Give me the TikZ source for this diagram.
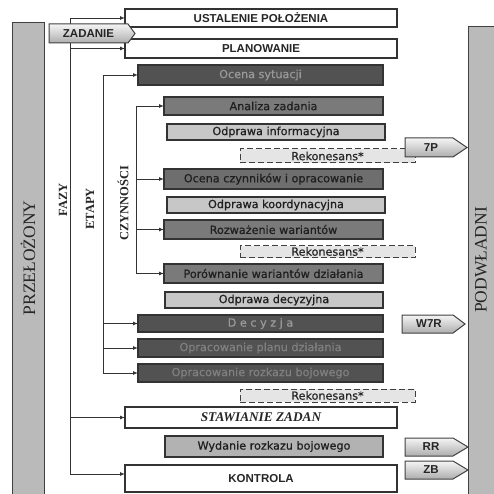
\documentclass[tikz,border=0pt]{standalone}
\usepackage{fontspec}
\setmainfont{Liberation Serif}
\newfontfamily\boxfont[FakeBold=0.6]{DejaVu Sans}
\newfontfamily\headfont{Liberation Sans}
\usetikzlibrary{arrows.meta}
\begin{document}
\begin{tikzpicture}[x=1pt,y=-1pt,
  every node/.style={inner sep=0pt,outer sep=0pt},
  bx/.style={draw=black!80,line width=1.3pt},
  boxtxt/.style={font=\boxfont\fontsize{11.2}{13}\selectfont},
  whitebox/.style={bx,fill=white,text=black!85,font=\headfont\bfseries\fontsize{11.5}{13}\selectfont},
  darkbox/.style={bx,boxtxt,fill=black!68,text=black!40},
  midbox/.style={bx,boxtxt,fill=black!52,text=black!88},
  lightbox/.style={bx,boxtxt,fill=black!22,text=black!88},
  reconbox/.style={boxtxt,draw=black!75,line width=1pt,dash pattern=on 6pt off 3pt,fill=black!10,text=black!85},
  tagshade/.style={draw=black!75,line width=1pt,line join=miter,top color=black!4,bottom color=black!32},
  tagtxt/.style={text=black!85,font=\headfont\bfseries\fontsize{11.5}{13}\selectfont},
  bar/.style={draw=black!75,line width=1pt,fill=black!27},
  trunk/.style={draw=black!80,line width=0.9pt},
  feed/.style={trunk,-{Latex[length=5pt,width=4pt]}},
  vlabel/.style={rotate=90,font=\bfseries\fontsize{12.5}{14}\selectfont,text=black!85}]
\pgfmathsetmacro{\fx}{70}
\pgfmathsetmacro{\ex}{103}
\pgfmathsetmacro{\cx}{136}
\useasboundingbox (0,0) rectangle (493,494);
%side bars
\draw[bar] (12,23) rectangle (44,497);
\draw[bar] (468,27) rectangle (497,497);
\node[rotate=90,font=\fontsize{17.5}{20}\selectfont,text=black!85] (przel) at (28,258) {PRZEŁOŻONY};
\node[rotate=90,font=\fontsize{17.5}{20}\selectfont,text=black!85] (podw) at (481,260) {PODWŁADNI};
%lines
\coordinate (fazy) at (\fx,0);
\coordinate (etapy) at (\ex,0);
\coordinate (czyn) at (\cx,0);
\node[vlabel] (lfazy) at (63,200) {FAZY};
\node[vlabel] (letapy) at (90,209) {ETAPY};
\node[vlabel] (lczyn) at (123,203) {CZYNNOŚCI};
%
\node[whitebox,minimum width=272,minimum height=18] (ustal) at (261,18) {USTALENIE POŁOŻENIA};
\node[whitebox,minimum width=272,minimum height=19] (plan) at (261,48.5) {PLANOWANIE};
\node[darkbox,minimum width=245,minimum height=20] (sytuacja) at (260.5,75) {Ocena sytuacji};
\node[midbox,minimum width=219,minimum height=18] (analiza) at (273.5,106) {Analiza zadania};
\node[lightbox,minimum width=218,minimum height=16] (odpinf) at (276,132) {Odprawa informacyjna};
\node[reconbox,minimum width=175,minimum height=14] (rek1) at (327.5,156) {Rekonesans*};
\node[midbox,fill=black!57,minimum width=219,minimum height=20] (czynniki) at (273.5,179) {Ocena czynników i opracowanie};
\node[lightbox,minimum width=218,minimum height=16] (odpkoord) at (276,205) {Odprawa koordynacyjna};
\node[midbox,minimum width=219,minimum height=19] (rozwaz) at (273.5,229.5) {Rozważenie wariantów};
\node[reconbox,minimum width=175,minimum height=12] (rek2) at (327.5,251.5) {Rekonesans*};
\node[midbox,minimum width=219,minimum height=19] (porown) at (273.5,273.5) {Porównanie wariantów działania};
\node[lightbox,minimum width=218,minimum height=16] (odpdec) at (274,300) {Odprawa decyzyjna};
\node[darkbox,minimum width=245,minimum height=17] (decyzja) at (260.5,323.5) {D e c y z j a};
\node[darkbox,text=black!50,minimum width=245,minimum height=18] (oplan) at (260.5,348) {Opracowanie planu działania};
\node[darkbox,text=black!50,minimum width=245,minimum height=18] (orozk) at (260.5,373) {Opracowanie rozkazu bojowego};
\node[reconbox,minimum width=175,minimum height=13] (rek3) at (327.5,395.5) {Rekonesans*};
\node[whitebox,font=\bfseries\itshape\fontsize{13.3}{15}\selectfont,minimum width=272,minimum height=21] (staw) at (261,417.5) {STAWIANIE ZADAN};
\node[lightbox,fill=black!30,minimum width=218,minimum height=21] (wydanie) at (274,446.5) {Wydanie rozkazu bojowego};
\node[whitebox,minimum width=272,minimum height=27] (kontrola) at (261,478.5) {KONTROLA};
%trunks
\draw[trunk] (fazy |- ustal.west) -- ([yshift=4.5pt]fazy |- kontrola.west);
\draw[trunk] (etapy |- sytuacja.west) -- (etapy |- orozk.west);
\draw[trunk] (czyn |- analiza.west) -- (czyn |- porown.west);
%arrows
\foreach \n in {ustal,plan,staw}
  \draw[feed] (fazy |- \n.west) -- (\n.west);
\draw[feed] ([yshift=4.5pt]fazy |- kontrola.west) -- ([yshift=4.5pt]kontrola.west);
\foreach \n in {sytuacja,decyzja,oplan,orozk}
  \draw[feed] (etapy |- \n.west) -- (\n.west);
\foreach \n in {analiza,czynniki,rozwaz,porown}
  \draw[feed] (czyn |- \n.west) -- (\n.west);
%tags
\draw[tagshade] (49,24) -- (128,24) -- (135,33.5) -- (128,43) -- (49,43) -- cycle;
\node[tagtxt] (zadanie) at (88.5,33.5) {ZADANIE};
\draw[tagshade] (405,138) -- (453,138) -- (467,147.5) -- (453,157) -- (405,157) -- cycle;
\node[tagtxt] (t7p) at (431,147.5) {7P};
\draw[tagshade] (402,315) -- (453,315) -- (465,324) -- (453,333) -- (402,333) -- cycle;
\node[tagtxt] (tw7r) at (429,324) {W7R};
\draw[tagshade] (405,438) -- (453,438) -- (468,447) -- (453,456) -- (405,456) -- cycle;
\node[tagtxt] (trr) at (431,447) {RR};
\draw[tagshade] (405,461) -- (453,461) -- (468,470) -- (453,479) -- (405,479) -- cycle;
\node[tagtxt] (tzb) at (431,470) {ZB};
\end{tikzpicture}
\end{document}
